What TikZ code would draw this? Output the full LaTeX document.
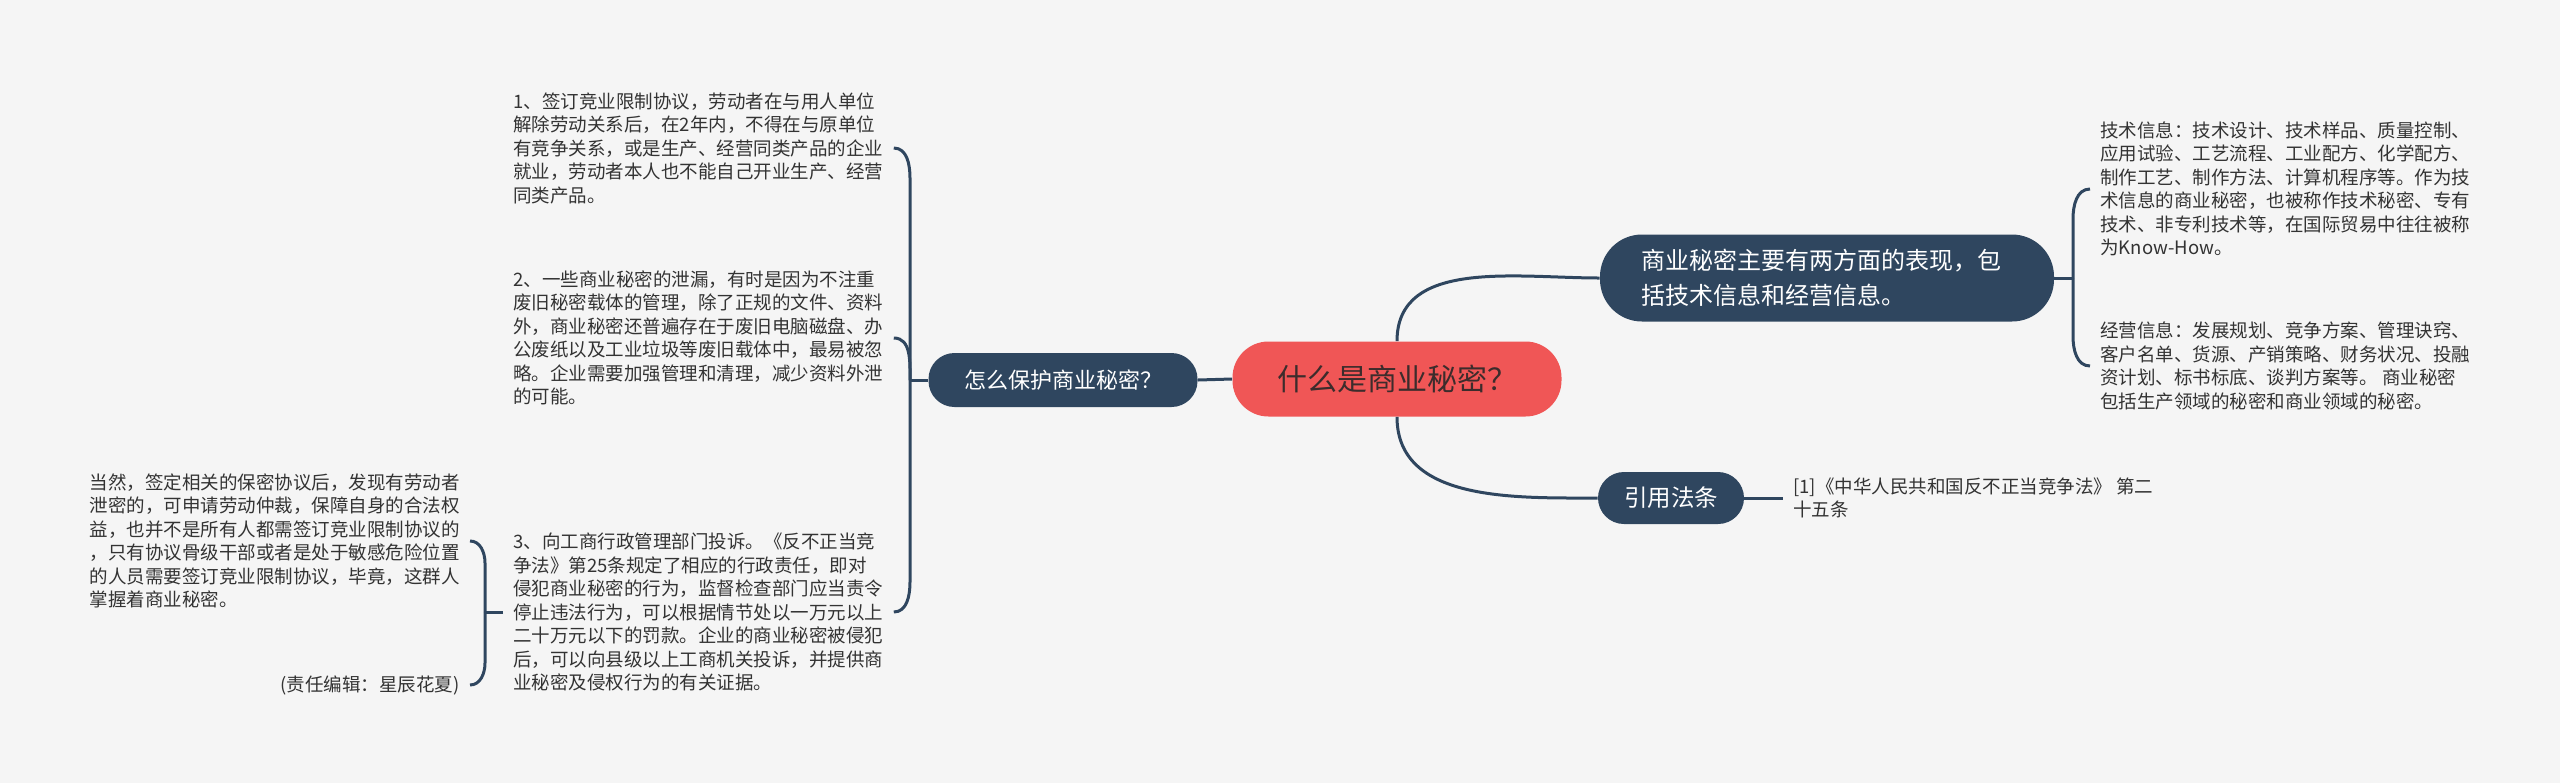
\documentclass[tikz,border=0pt]{standalone}
\usepackage{fontspec}
\newfontfamily\cjk{Noto Sans CJK SC}
\usetikzlibrary{positioning,calc}
\definecolor{mapbg}{RGB}{245,245,245}
\definecolor{slate}{RGB}{47,70,95}
\definecolor{rootred}{RGB}{240,86,86}
\definecolor{bodytext}{RGB}{51,51,51}
\definecolor{roottext}{RGB}{60,44,44}

\begin{document}
\begin{tikzpicture}[x=0.5pt, y=-0.5pt,
  link/.style={draw=slate, line width=1.5pt},
  topic/.style={fill=slate, text=white, inner sep=0pt, align=center},
  note/.style={text=bodytext, align=left, inner xsep=5pt, inner ysep=0pt,
    font=\cjk\fontsize{9.25pt}{11.75pt}\selectfont}]
  \fill[mapbg] (0,0) rectangle (2560,783);
  \useasboundingbox (0,0) rectangle (2560,783);

  % main topics
  \node[fill=rootred, text=roottext, inner sep=0pt, minimum width=164.5pt,
    minimum height=37.5pt, rounded corners=18pt,
    font=\cjk\fontsize{15pt}{18pt}\selectfont] (root) at (1397,379) {什么是商业秘密？};
  \node[topic, minimum width=134.5pt, minimum height=27pt, rounded corners=13pt,
    font=\cjk\fontsize{11pt}{13pt}\selectfont] (protect) at (1063,380) {怎么保护商业秘密？};
  \node[topic, align=left, text width=186pt, inner xsep=20.5pt, minimum height=43.5pt,
    rounded corners=21pt, font=\cjk\fontsize{12pt}{17.5pt}\selectfont] (aspects) at (1827,278)
    {商业秘密主要有两方面的表现，包\\括技术信息和经营信息。};
  \node[topic, minimum width=73pt, minimum height=26pt, rounded corners=13pt,
    font=\cjk\fontsize{11.75pt}{14pt}\selectfont] (law) at (1671,498) {引用法条};

  \draw[link] (root.west) -- (protect.east);
  \draw[link] (root.north) to[out=90, in=180] (aspects.west);
  \draw[link] (root.south) to[out=-90, in=180] (law.west);

  % ways to protect
  \node[note, anchor=west] (way1) at (503,148)
    {1、签订竞业限制协议，劳动者在与用人单位\\
     解除劳动关系后，在2年内，不得在与原单位\\
     有竞争关系，或是生产、经营同类产品的企业\\
     就业，劳动者本人也不能自己开业生产、经营\\
     同类产品。};
  \node[note, anchor=west] (way2) at (503,338)
    {2、一些商业秘密的泄漏，有时是因为不注重\\
     废旧秘密载体的管理，除了正规的文件、资料\\
     外，商业秘密还普遍存在于废旧电脑磁盘、办\\
     公废纸以及工业垃圾等废旧载体中，最易被忽\\
     略。企业需要加强管理和清理，减少资料外泄\\
     的可能。};
  \node[note, anchor=west] (way3) at (503,612)
    {3、向工商行政管理部门投诉。《反不正当竞\\
     争法》第25条规定了相应的行政责任，即对\\
     侵犯商业秘密的行为，监督检查部门应当责令\\
     停止违法行为，可以根据情节处以一万元以上\\
     二十万元以下的罚款。企业的商业秘密被侵犯\\
     后，可以向县级以上工商机关投诉，并提供商\\
     业秘密及侵权行为的有关证据。};

  \coordinate (pj) at (910,380);
  \draw[link] (protect.west) -- (pj);
  \draw[link] (way1.east) to[out=0, in=90] ($(pj |- way1.east)+(0,30)$) -- (pj);
  \draw[link] (way2.east) to[out=0, in=90] (pj);
  \draw[link] (way3.east) to[out=0, in=-90] ($(pj |- way3.east)+(0,-30)$) -- (pj);

  % remarks on item 3
  \node[note, anchor=east] (remark) at (470,541)
    {当然，签定相关的保密协议后，发现有劳动者\\
     泄密的，可申请劳动仲裁，保障自身的合法权\\
     益，也并不是所有人都需签订竞业限制协议的\\
     ，只有协议骨级干部或者是处于敏感危险位置\\
     的人员需要签订竞业限制协议，毕竟，这群人\\
     掌握着商业秘密。};
  \node[note, anchor=east] (editor) at (470,685) {(责任编辑：星辰花夏)};

  \coordinate (sj) at (485,612);
  \draw[link] (way3.west) -- (sj);
  \draw[link] (remark.east) to[out=0, in=90] ($(sj |- remark.east)+(0,22)$) -- (sj);
  \draw[link] (editor.east) to[out=0, in=-90] ($(sj |- editor.east)+(0,-22)$) -- (sj);

  % two kinds of information
  \node[note, anchor=west] (tech) at (2090,189)
    {技术信息：技术设计、技术样品、质量控制、\\
     应用试验、工艺流程、工业配方、化学配方、\\
     制作工艺、制作方法、计算机程序等。作为技\\
     术信息的商业秘密，也被称作技术秘密、专有\\
     技术、非专利技术等，在国际贸易中往往被称\\
     为Know-How。};
  \node[note, anchor=west] (biz) at (2090,366)
    {经营信息：发展规划、竞争方案、管理诀窍、\\
     客户名单、货源、产销策略、财务状况、投融\\
     资计划、标书标底、谈判方案等。 商业秘密\\
     包括生产领域的秘密和商业领域的秘密。};

  \coordinate (aj) at (2073,278);
  \draw[link] (aspects.east) -- (aj);
  \draw[link] (tech.west) to[out=180, in=90] ($(aj |- tech.west)+(0,30)$) -- (aj);
  \draw[link] (biz.west) to[out=180, in=-90] ($(aj |- biz.west)+(0,-30)$) -- (aj);

  % cited article
  \node[note, anchor=west] (article) at (1783,498)
    {[1]《中华人民共和国反不正当竞争法》 第二\\
     十五条};
  \draw[link] (law.east) -- (article.west);
\end{tikzpicture}
\end{document}
